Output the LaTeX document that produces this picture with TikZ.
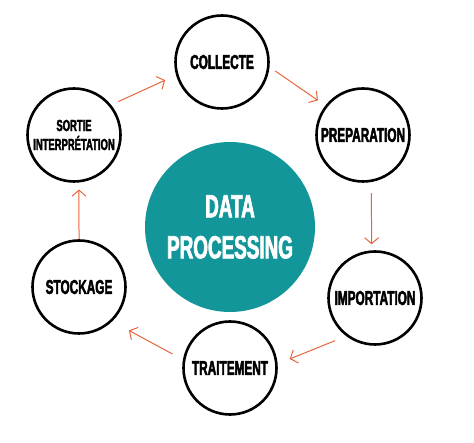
\documentclass[tikz,border=0pt]{standalone}
\usepackage{fontspec}
\usetikzlibrary{arrows.meta}
\newfontfamily\condfont[FakeStretch=0.59,FakeBold=2.2]{Liberation Sans Bold}
\definecolor{dataTeal}{HTML}{13969A}
\definecolor{flowOrange}{HTML}{E8643C}

\begin{document}
\begin{tikzpicture}[x=1pt,y=-1pt,
    stage/.style={circle,draw=black,line width=2.6pt,minimum size=93pt,inner sep=0pt,
      align=center,font=\condfont\fontsize{20}{20}\selectfont},
    flow/.style={draw=flowOrange,line width=1pt,-{Straight Barb[length=6pt,width=14pt]}}]
    \fill[white] (0,0) rectangle (474,443);
    \useasboundingbox (0,0) rectangle (474,443);

    \node[circle,fill=dataTeal,minimum size=170pt,inner sep=0pt,text=white,align=center,
      font=\condfont\fontsize{32}{41}\selectfont] (data) at (230,227) {DATA\\PROCESSING};

    \node[stage] (collecte) at (222,62) {COLLECTE};
    \node[stage] (preparation) at (363,135) {PREPARATION};
    \node[stage] (importation) at (375,298) {IMPORTATION};
    \node[stage] (traitement) at (230,368) {TRAITEMENT};
    \node[stage] (stockage) at (79,287) {STOCKAGE};
    \node[stage,font=\condfont\fontsize{16}{19}\selectfont] (sortie) at (74,135) {SORTIE\\INTERPR\'ETATION};

    \draw[flow,shorten <=8pt,shorten >=12pt] (sortie.39) -- (collecte.196);
    \draw[flow,shorten <=7pt,shorten >=9pt] (collecte.-6) -- (preparation.142);
    \draw[flow,shorten <=11pt,shorten >=6pt] (preparation.-80) -- (importation.94);
    \draw[flow,shorten <=12pt,shorten >=13pt] (importation.233) -- (traitement.5);
    \draw[flow,shorten <=12pt,shorten >=19pt] (traitement.170) -- (stockage.-46);
    \draw[flow,shorten >=7pt] (stockage.90) -- (sortie.-84);

  \end{tikzpicture}
\end{document}
